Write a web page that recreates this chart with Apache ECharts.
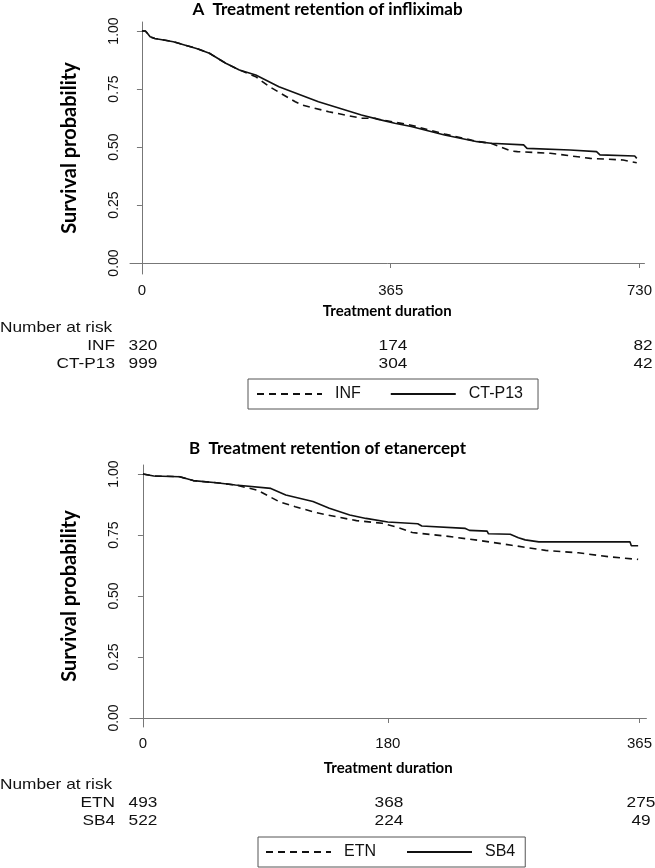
<!DOCTYPE html>
<html><head><meta charset="utf-8">
<script src="https://cdn.jsdelivr.net/npm/echarts@6/dist/echarts.min.js"></script>
<style>html,body{margin:0;padding:0;background:#fff}#c{width:655px;height:868px}</style>
</head><body><div id="c"></div>
<script>
// ---- Panel A: infliximab ----
const titleA = 'A  Treatment retention of infliximab';
const seriesNamesA = ['INF', 'CT-P13'];
const xTicksA = [0, 365, 730];
const yTicks = [0, 0.25, 0.5, 0.75, 1];
const infCurve = [[0,1.0],[5,1.0],[8,0.99],[12,0.975],[19,0.968],[46,0.954],[80,0.925],[99,0.904],[123,0.861],[143,0.832],[167,0.803],[187,0.760],[225,0.695],[235,0.681],[274,0.652],[322,0.624],[342,0.624],[347,0.620],[395,0.594],[444,0.556],[492,0.524],[512,0.516],[541,0.483],[551,0.480],[599,0.473],[658,0.451],[706,0.444],[726,0.432]];
const ctp13Curve = [[0,1.0],[5,1.0],[8,0.99],[12,0.975],[19,0.968],[46,0.954],[80,0.925],[99,0.904],[123,0.861],[143,0.832],[167,0.810],[201,0.760],[259,0.695],[322,0.638],[347,0.619],[371,0.602],[395,0.588],[444,0.552],[492,0.523],[512,0.516],[560,0.509],[565,0.494],[628,0.487],[667,0.480],[672,0.466],[723,0.461],[726,0.451]];
const riskA_INF = ['320', '174', '82'];
const riskA_CTP = ['999', '304', '42'];

// ---- Panel B: etanercept ----
const titleB = 'B  Treatment retention of etanercept';
const seriesNamesB = ['ETN', 'SB4'];
const xTicksB = [0, 180, 365];
const etnCurve = [[0,1.0],[8,0.992],[27,0.989],[37,0.973],[54,0.964],[68,0.955],[84,0.934],[100,0.887],[112,0.866],[127,0.842],[142,0.825],[157,0.809],[176,0.798],[188,0.780],[198,0.760],[222,0.746],[247,0.728],[271,0.708],[296,0.687],[320,0.677],[344,0.660],[364,0.650]];
const sb4Curve = [[0,1.0],[8,0.992],[27,0.989],[37,0.973],[54,0.964],[68,0.955],[94,0.941],[105,0.914],[125,0.887],[137,0.860],[152,0.832],[164,0.818],[180,0.803],[202,0.796],[205,0.787],[237,0.777],[240,0.769],[253,0.766],[254,0.755],[270,0.753],[276,0.739],[281,0.730],[291,0.722],[358,0.722],[359,0.706],[364,0.706]];
const riskB_ETN = ['493', '368', '275'];
const riskB_SB4 = ['522', '224', '49'];

const yName = 'Survival probability';
const xName = 'Treatment duration';
const riskHeader = 'Number at risk';

const boldFont = 'Lato';
const numFont = 'Liberation Sans';
const axisCol = '#777';

function xAxisCfg(idx, min, max, ticks, gap) {
  return {
    type: 'value', gridIndex: idx, min: min, max: max,
    name: xName, nameLocation: 'middle', nameGap: gap,
    nameTextStyle: {fontFamily: boldFont, fontWeight: 'bold', fontSize: 15, color: '#000'},
    axisLine: {show: true, lineStyle: {color: axisCol, width: 1}},
    axisTick: {show: true, length: 5, customValues: ticks, lineStyle: {color: axisCol}},
    axisLabel: {customValues: ticks, fontFamily: numFont, fontSize: 15, color: '#111', margin: 9},
    splitLine: {show: false}
  };
}
function yAxisCfg(idx, min, max) {
  return {
    type: 'value', gridIndex: idx, min: min, max: max,
    name: yName, nameLocation: 'middle', nameGap: 50, nameRotate: 90,
    nameTextStyle: {fontFamily: boldFont, fontWeight: 'bold', fontSize: 20, color: '#000'},
    axisLine: {show: true, lineStyle: {color: axisCol, width: 1}},
    axisTick: {show: true, length: 5, customValues: yTicks, lineStyle: {color: axisCol}},
    axisLabel: {customValues: yTicks, rotate: 90, fontFamily: numFont, fontSize: 14, color: '#111', margin: 9,
      formatter: v => v.toFixed(2)},
    splitLine: {show: false}
  };
}
function line(name, data, idx, dashed) {
  return {
    type: 'line', name: name, data: data, xAxisIndex: idx, yAxisIndex: idx,
    showSymbol: false, symbol: 'none', silent: true, animation: false,
    lineStyle: {color: '#111', width: 1.6, type: dashed ? [7, 5] : 'solid'},
    itemStyle: {color: '#111'}
  };
}
function txt(x, y, text, align, size) {
  return {type: 'text', x: x, y: y, scaleX: 1.15,
    style: {text: text, textAlign: align, textVerticalAlign: 'middle', fontFamily: numFont, fontSize: size || 15, fill: '#111'}};
}
function riskGraphics(cols, y0, names, rows) {
  const g = [txt(0, y0, riskHeader, 'left')];
  rows.forEach((r, i) => {
    const y = y0 + 18 * (i + 1);
    g.push(txt(115, y, names[i], 'right'));
    r.forEach((v, j) => g.push(txt(cols[j], y, v, 'center')));
  });
  return g;
}
function legendCfg(names, left, top, gap, pad) {
  return {data: names, left: left, top: top, orient: 'horizontal', itemWidth: 65, itemHeight: 14, itemGap: gap,
    padding: pad, borderColor: '#555', borderWidth: 1, selectedMode: false,
    itemStyle: {opacity: 0, color: 'rgba(0,0,0,0)', borderWidth: 0},
    textStyle: {fontFamily: numFont, fontSize: 16, color: '#111', padding: [0, 0, 0, 8]}};
}

const chart = echarts.init(document.getElementById('c'), null, {renderer: 'canvas'});
const colsA = [143, 393, 643];
const colsB = [143, 389, 641];
chart.setOption({
  animation: false,
  backgroundColor: '#fff',
  title: [
    {text: titleA, left: 'center', top: 1, padding: 0, textStyle: {fontFamily: boldFont, fontWeight: 'bold', fontSize: 17, color: '#000'}},
    {text: titleB, left: 'center', top: 440, padding: 0, textStyle: {fontFamily: boldFont, fontWeight: 'bold', fontSize: 17, color: '#000'}}
  ],
  grid: [
    {left: 130, top: 22, width: 518, height: 252},
    {left: 130, top: 465, width: 518, height: 262}
  ],
  xAxis: [xAxisCfg(0, -17.5, 737.3, xTicksA, 30), xAxisCfg(1, -9.5, 370.1, xTicksB, 34)],
  yAxis: [yAxisCfg(0, -0.0474, 1.0388), yAxisCfg(1, -0.0369, 1.0369)],
  legend: [
    legendCfg(seriesNamesA, 248, 379, 29, [7, 15, 7, 8]),
    legendCfg(seriesNamesB, 258, 837, 30, [7, 10, 7, 7])
  ],
  series: [
    line(seriesNamesA[0], infCurve, 0, true),
    line(seriesNamesA[1], ctp13Curve, 0, false),
    line(seriesNamesB[0], etnCurve, 1, true),
    line(seriesNamesB[1], sb4Curve, 1, false)
  ],
  graphic: [].concat(
    riskGraphics(colsA, 328, seriesNamesA, [riskA_INF, riskA_CTP]),
    riskGraphics(colsB, 785, seriesNamesB, [riskB_ETN, riskB_SB4])
  )
});
</script></body></html>
